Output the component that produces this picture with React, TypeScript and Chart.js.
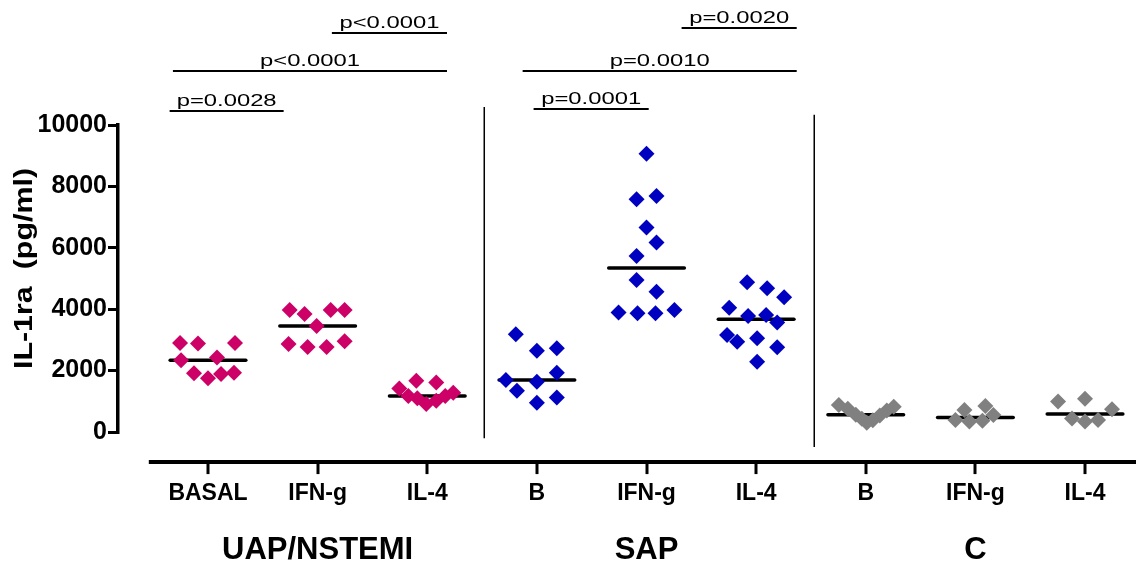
import { useEffect, useRef } from 'react';
import { Chart, registerables } from 'chart.js';

Chart.register(...registerables);

// ---------- data ----------
const categories = ['BASAL', 'IFN-g', 'IL-4', 'B', 'IFN-g', 'IL-4', 'B', 'IFN-g', 'IL-4'];
const groups = ['UAP/NSTEMI', 'SAP', 'C'];
const groupCenters = [2, 5, 8];
const yTicks = [0, 2000, 4000, 6000, 8000, 10000];

// IL-1ra (pg/ml) values per column
const uapBasal = [2900, 2880, 2900, 2340, 2430, 1910, 1750, 1890, 1930];
const uapIfng = [3970, 3840, 3970, 3970, 3450, 2870, 2770, 2770, 2960];
const uapIl4 = [1420, 1670, 1610, 1170, 1100, 910, 1020, 1170, 1280];
const sapB = [3180, 2650, 2730, 1690, 1640, 1930, 1340, 950, 1120];
const sapIfng = [9060, 7580, 7690, 6660, 6170, 5730, 4950, 4570, 3890, 3870, 3870, 3970];
const sapIl4 = [4880, 4680, 4390, 4050, 3780, 3810, 3570, 3160, 2940, 3050, 2760, 2290];
const cB = [880, 760, 560, 430, 300, 380, 540, 700, 820];
const cIfng = [390, 720, 340, 370, 850, 550];
const cIl4 = [990, 1080, 440, 340, 390, 740];

// horizontal scatter offsets of each point within its column (category units)
const uapBasalJitter = [-0.255, -0.091, 0.246, -0.246, 0.082, -0.128, 0, 0.119, 0.237];
const uapIfngJitter = [-0.255, -0.119, 0.119, 0.246, -0.009, -0.265, -0.091, 0.082, 0.246];
const uapIl4Jitter = [-0.255, -0.1, 0.082, -0.173, -0.091, -0.009, 0.082, 0.164, 0.237];
const sapBJitter = [-0.192, 0, 0.182, -0.283, 0, 0.182, -0.182, 0, 0.182];
const sapIfngJitter = [0, -0.091, 0.091, 0, 0.091, -0.091, -0.091, 0.091, -0.255, -0.082, 0.082, 0.255];
const sapIl4Jitter = [-0.082, 0.1, 0.255, -0.246, -0.073, 0.091, 0.192, -0.265, -0.173, 0.009, 0.192, 0.009];
const cBJitter = [-0.246, -0.164, -0.091, -0.036, 0.009, 0.064, 0.128, 0.192, 0.255];
const cIfngJitter = [-0.182, -0.1, -0.055, 0.064, 0.091, 0.164];
const cIl4Jitter = [-0.246, 0, -0.119, 0, 0.119, 0.246];

const columnValues = [uapBasal, uapIfng, uapIl4, sapB, sapIfng, sapIl4, cB, cIfng, cIl4];
const columnJitter = [uapBasalJitter, uapIfngJitter, uapIl4Jitter, sapBJitter, sapIfngJitter, sapIl4Jitter, cBJitter, cIfngJitter, cIl4Jitter];
const groupColors = ['#CC0066', '#0000C0', '#808080'];

// significance brackets
const bracketStart = [0.65, 0.68, 2.13, 3.97, 3.87, 5.32];
const bracketEnd = [1.69, 3.18, 3.18, 5.02, 6.37, 6.37];
const bracketLevel = [10460, 11760, 13000, 10520, 11760, 13160];
const bracketLabels = ['p=0.0028', 'p<0.0001', 'p<0.0001', 'p=0.0001', 'p=0.0010', 'p=0.0020'];

// group separators
const separatorX = [3.52, 6.53];
const separatorTop = [10590, 10330];
const separatorBottom = [-200, -490];

const FONT = '"Liberation Sans", Arial, Helvetica, sans-serif';

function median(a: number[]): number {
  const s = [...a].sort((p, q) => p - q);
  const n = s.length;
  return n % 2 ? s[(n - 1) / 2] : (s[n / 2 - 1] + s[n / 2]) / 2;
}

const decorPlugin = {
  id: 'decor',
  afterDraw(chart: any) {
    const ctx = chart.ctx as CanvasRenderingContext2D;
    const xs = chart.scales.x;
    const ys = chart.scales.y;
    const area = chart.chartArea;
    ctx.save();
    // x axis line (offset below the data area)
    const axisY = ys.getPixelForValue(-980);
    ctx.strokeStyle = '#000';
    ctx.lineWidth = 4;
    ctx.beginPath();
    ctx.moveTo(xs.getPixelForValue(0.46), axisY);
    ctx.lineTo(chart.width, axisY);
    ctx.stroke();
    ctx.lineWidth = 3;
    categories.forEach((_, i) => {
      const px = Math.round(xs.getPixelForValue(i + 1));
      ctx.beginPath();
      ctx.moveTo(px, axisY);
      ctx.lineTo(px, axisY + 12);
      ctx.stroke();
    });
    // p-value labels
    ctx.fillStyle = '#000';
    ctx.font = '17px ' + FONT;
    ctx.textAlign = 'center';
    ctx.textBaseline = 'alphabetic';
    bracketLabels.forEach((lab, i) => {
      const cx = (xs.getPixelForValue(bracketStart[i]) + xs.getPixelForValue(bracketEnd[i])) / 2;
      const py = ys.getPixelForValue(bracketLevel[i]);
      ctx.save();
      ctx.translate(cx, py - 5);
      ctx.scale(1.4, 1);
      ctx.fillText(lab, 0, 0);
      ctx.restore();
    });
    // y axis title
    ctx.save();
    ctx.translate(25, (area.top + area.bottom) / 2 - 10);
    ctx.rotate(-Math.PI / 2);
    ctx.font = 'bold 26px ' + FONT;
    ctx.textBaseline = 'middle';
    ctx.textAlign = 'center';
    ctx.scale(1.17, 1);
    ctx.fillText('IL-1ra  (pg/ml)', 0, 0);
    ctx.restore();
    ctx.restore();
  },
};

export default function App() {
  const ref = useRef<HTMLCanvasElement | null>(null);

  useEffect(() => {
    document.body.style.margin = '0';
    const canvas = ref.current;
    if (!canvas) return;

    const datasets: any[] = [];
    columnValues.forEach((vals, i) => {
      const color = groupColors[Math.floor(i / 3)];
      datasets.push({
        label: categories[i],
        data: vals.map((v, j) => ({ x: i + 1 + columnJitter[i][j], y: v })),
        pointStyle: 'rectRot',
        pointRadius: 8,
        pointBackgroundColor: color,
        pointBorderColor: color,
        pointBorderWidth: 0,
        showLine: false,
        order: 0,
      });
    });
    columnValues.forEach((vals, i) => {
      const m = median(vals);
      datasets.push({
        label: 'median',
        data: [{ x: i + 1 - 0.345, y: m }, { x: i + 1 + 0.345, y: m }],
        showLine: true,
        borderColor: '#000',
        borderWidth: 3.5,
        borderCapStyle: 'round',
        pointRadius: 0,
        order: 1,
      });
    });
    bracketLabels.forEach((_, i) => {
      datasets.push({
        label: 'bracket',
        data: [{ x: bracketStart[i], y: bracketLevel[i] }, { x: bracketEnd[i], y: bracketLevel[i] }],
        showLine: true,
        borderColor: '#000',
        borderWidth: 2,
        pointRadius: 0,
        clip: false,
        order: 2,
      });
    });
    separatorX.forEach((sx, i) => {
      datasets.push({
        label: 'separator',
        data: [{ x: sx, y: separatorTop[i] }, { x: sx, y: separatorBottom[i] }],
        showLine: true,
        borderColor: '#000',
        borderWidth: 1.5,
        pointRadius: 0,
        clip: false,
        order: 2,
      });
    });

    const chart = new Chart(canvas, {
      type: 'scatter',
      data: { datasets },
      plugins: [decorPlugin],
      options: {
        animation: false,
        responsive: false,
        events: [],
        layout: { autoPadding: false, padding: { top: 125, left: 0, right: 0, bottom: 0 } },
        plugins: { legend: { display: false }, tooltip: { enabled: false } },
        scales: {
          x: {
            type: 'linear',
            min: 0.179,
            max: 9.465,
            position: 'bottom',
            weight: 0,
            grid: { display: false, drawTicks: false },
            border: { display: false },
            afterBuildTicks: (s: any) => {
              s.ticks = categories.map((_, i) => ({ value: i + 1 }));
            },
            afterFit: (s: any) => {
              s.height = 80;
              s.paddingLeft = 0;
              s.paddingRight = 0;
            },
            ticks: {
              autoSkip: false,
              maxRotation: 0,
              minRotation: 0,
              padding: 48,
              color: '#000',
              font: { family: FONT, size: 23, weight: 'bold' },
              callback: (_v: any, idx: number) => categories[idx],
            },
          },
          x2: {
            type: 'linear',
            axis: 'x',
            min: 0.179,
            max: 9.465,
            position: 'bottom',
            weight: 1,
            grid: { display: false, drawTicks: false },
            border: { display: false },
            afterBuildTicks: (s: any) => {
              s.ticks = groupCenters.map((v) => ({ value: v }));
            },
            afterFit: (s: any) => {
              s.height = 53;
              s.paddingLeft = 0;
              s.paddingRight = 0;
            },
            ticks: {
              autoSkip: false,
              maxRotation: 0,
              minRotation: 0,
              padding: 20,
              color: '#000',
              font: { family: FONT, size: 31, weight: 'bold' },
              callback: (_v: any, idx: number) => groups[idx],
            },
          },
          y: {
            type: 'linear',
            min: 0,
            max: 10000,
            position: 'left',
            afterBuildTicks: (s: any) => {
              s.ticks = yTicks.map((v) => ({ value: v }));
            },
            afterFit: (s: any) => {
              s.width = 118;
            },
            grid: {
              drawOnChartArea: false,
              drawTicks: true,
              tickLength: 10,
              color: '#000',
              lineWidth: 3,
            },
            border: { display: true, color: '#000', width: 3.5 },
            ticks: {
              padding: 1,
              color: '#000',
              font: { family: FONT, size: 25, weight: 'bold' },
              callback: (v: any) => String(v),
            },
          },
        },
      } as any,
    });

    return () => chart.destroy();
  }, []);

  return (
    <div style={{ position: 'absolute', left: 0, top: 0, width: 1136, height: 565, background: '#fff' }}>
      <canvas ref={ref} width={1136} height={565} style={{ display: 'block' }} />
    </div>
  );
}
